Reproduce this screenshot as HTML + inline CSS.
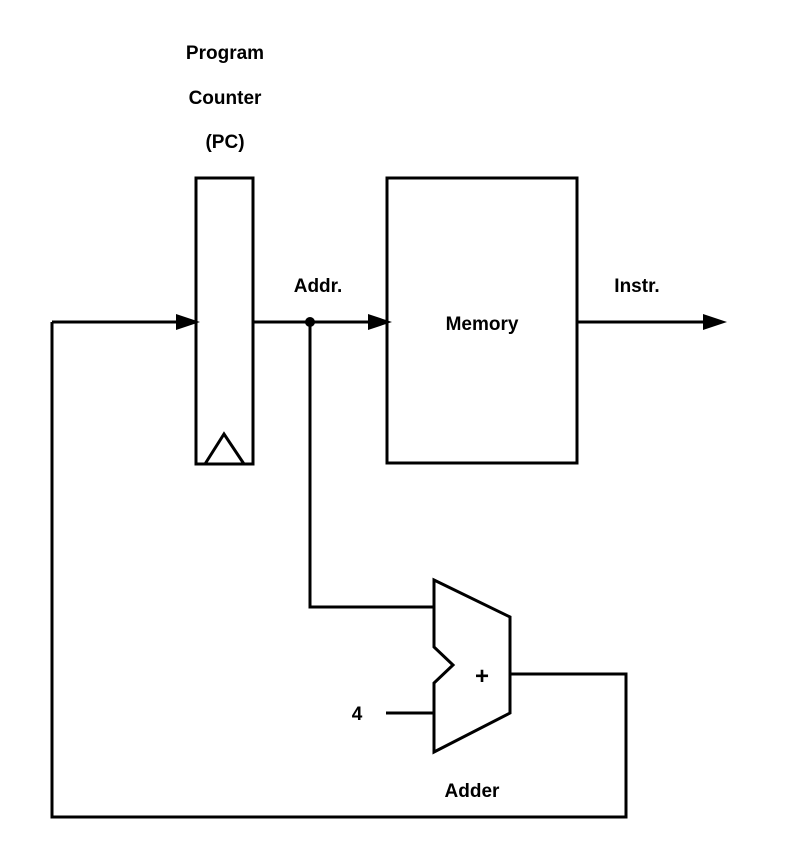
<!DOCTYPE html>
<html><head><style>body{margin:0;background:#fff}</style></head><body>
<svg width="787" height="840" viewBox="0 0 787 840" xmlns="http://www.w3.org/2000/svg">
<g fill="none" stroke="#000" stroke-width="3">
<rect x="196" y="178" width="57" height="286"/>
<polyline points="205,464 224,434 244,464"/>
<rect x="387" y="178" width="190" height="285"/>
<polyline points="52,322 52,817 626,817 626,674 510,674"/>
<line x1="52" y1="322" x2="180" y2="322"/>
<line x1="253" y1="322" x2="372" y2="322"/>
<line x1="577" y1="322" x2="705" y2="322"/>
<polyline points="310,322 310,607 434,607"/>
<line x1="386" y1="713" x2="434" y2="713"/>
<polygon points="434,580 510,617 510,713 434,752 434,683 453,665 434,647"/>
</g>
<g fill="#000">
<polygon points="200,322 176,314 176,330"/>
<polygon points="392,322 368,314 368,330"/>
<polygon points="727,322 703,314 703,330"/>
<circle cx="310" cy="322" r="5"/>
</g>
<g font-family="Liberation Sans, sans-serif" font-weight="bold" font-size="19" text-anchor="middle">
<text x="225" y="59">Program</text>
<text x="225" y="104">Counter</text>
<text x="225" y="148">(PC)</text>
<text x="318" y="292">Addr.</text>
<text x="482" y="330">Memory</text>
<text x="637" y="292">Instr.</text>
<text x="482" y="684" font-size="24">+</text>
<text x="357" y="720">4</text>
<text x="472" y="797">Adder</text>
</g>
</svg>
</body></html>
